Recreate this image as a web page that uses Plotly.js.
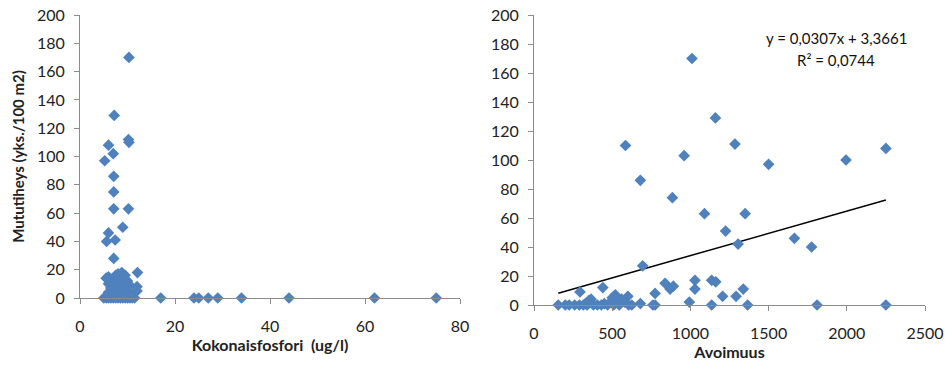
<!DOCTYPE html>
<html>
<head>
<meta charset="utf-8">
<script src="https://cdn.plot.ly/plotly-3.0.1.min.js"></script>
<style>html,body{margin:0;padding:0;background:#fff;}#chart{width:945px;height:365px;}</style>
</head>
<body>
<div id="chart"></div>
<script>
// Left panel: Kokonaisfosfori (ug/l) vs Mututiheys
const fosforiX = [10.3, 7.2, 6.0, 7.0, 5.2, 10.2, 10.3, 7.1, 7.1, 7.1, 10.2, 9.0, 6.0, 5.6, 7.4, 7.1, 12.1,
  17, 24, 25, 27, 29, 34, 44, 62, 75,
  5, 5.5, 6, 6.5, 7, 7.5, 8, 8.5, 9, 9.5, 10, 10.5, 11, 11.5,
  5.5, 6, 6, 6.5, 7, 7, 7.5, 8, 8, 8.5, 8.5, 9, 9, 9.5, 10, 10, 10.5, 11, 12, 12, 6, 9, 7.5, 8.8];
const fosforiY = [170, 129, 108, 102, 97, 112, 110, 86, 75, 63, 63, 50, 46, 40, 41, 28, 18,
  0, 0, 0, 0, 0, 0, 0, 0, 0,
  0, 0, 0, 0, 0, 0, 0, 0, 0, 0, 0, 0, 0, 0,
  14, 10, 4, 7, 12, 3, 16, 8, 17, 5, 14, 11, 2, 16, 6, 12, 9, 3, 8, 5, 15, 7, 10, 18];

// Right panel: Avoimuus vs Mututiheys
const avoimuusX = [1010, 1160, 585, 1285, 960, 1500, 1995, 2250, 680, 885, 1090, 1350, 1225, 1305, 1665, 1775, 695,
  294, 440, 365, 520, 600, 680, 774, 774, 838, 870, 891, 993, 1029, 1029, 1136, 1136, 1162, 1206, 1292, 1338, 1366, 1810, 2250,
  155, 200, 225, 260, 290, 315, 340, 360, 380, 405, 430, 450, 470, 490, 510, 530, 545, 560, 580, 605, 625, 500, 350, 330, 760];
const avoimuusY = [170, 129, 110, 111, 103, 97, 100, 108, 86, 74, 63, 63, 51, 42, 46, 40, 27,
  9, 12, 4, 7, 6, 1, 8, 0, 15, 11, 13, 2, 17, 11, 0, 17, 16, 6, 6, 11, 0, 0, 0,
  0, 0, 0, 0, 0, 0, 0, 2, 0, 0, 0, 1, 0, 2, 0, 3, 0, 4, 2, 0, 0, 5, 3, 1, 0];

// Linear trend shown in the chart
const trendSlope = 0.0307;
const trendIntercept = 3.3661;
const trendEquation = "y = 0,0307x + 3,3661";
const trendR2 = "R² = 0,0744";

const xMin = Math.min(...avoimuusX), xMax = Math.max(...avoimuusX);
const trendX = [xMin, xMax];
const trendY = trendX.map(x => trendSlope * x + trendIntercept);

const blue = '#4F81BD';
const font = 'Lato, "Open Sans", sans-serif';
const marker = {symbol: 'diamond', size: 9, color: blue, line: {width: 0}};

const axisCommon = {
  showgrid: false, zeroline: false, showline: true, linecolor: '#8c8c8c', linewidth: 1,
  ticks: 'outside', ticklen: 5, tickcolor: '#8c8c8c', tickfont: {family: font, size: 16, color: '#222'},
  fixedrange: true
};
const titleFont = {family: font, size: 16, color: '#222'};

const data = [
  {x: fosforiX, y: fosforiY, xaxis: 'x', yaxis: 'y', type: 'scatter', mode: 'markers', marker: marker, cliponaxis: false},
  {x: trendX, y: trendY, xaxis: 'x2', yaxis: 'y2', type: 'scatter', mode: 'lines', line: {color: '#000', width: 1.5}},
  {x: avoimuusX, y: avoimuusY, xaxis: 'x2', yaxis: 'y2', type: 'scatter', mode: 'markers', marker: marker, cliponaxis: false}
];

const layout = {
  width: 945, height: 365,
  margin: {l: 0, r: 0, t: 0, b: 0},
  paper_bgcolor: '#fff', plot_bgcolor: '#fff',
  showlegend: false,
  xaxis: Object.assign({}, axisCommon, {domain: [80/945, 460/945], range: [0, 80], dtick: 20, anchor: 'y',
    ticklabelstandoff: 9,
    title: {text: '<b>Kokonaisfosfori  (ug/l)</b>', font: titleFont, standoff: 3}}),
  yaxis: Object.assign({}, axisCommon, {domain: [(365-298)/365, (365-15)/365], range: [0, 200], dtick: 20, anchor: 'x',
    ticklabelstandoff: 6,
    title: {text: '<b>Mututiheys (yks./100 m2)</b>', font: {family: font, size: 15, color: '#222'}, standoff: 8}}),
  xaxis2: Object.assign({}, axisCommon, {domain: [534/945, 925/945], range: [0, 2500], dtick: 500, anchor: 'y2',
    ticklabelstandoff: 9,
    title: {text: '<b>Avoimuus</b>', font: titleFont, standoff: 1}}),
  yaxis2: Object.assign({}, axisCommon, {domain: [(365-305)/365, (365-15)/365], range: [0, 200], dtick: 20, anchor: 'x2',
    ticklabelstandoff: 6}),
  annotations: [
    {text: trendEquation, xref: 'paper', yref: 'paper', x: 836/945, y: (365-38)/365, xanchor: 'center', yanchor: 'middle',
     showarrow: false, font: {family: font, size: 15, color: '#111'}},
    {text: trendR2, xref: 'paper', yref: 'paper', x: 836/945, y: (365-60)/365, xanchor: 'center', yanchor: 'middle',
     showarrow: false, font: {family: font, size: 15, color: '#111'}}
  ]
};

Plotly.newPlot('chart', data, layout, {displayModeBar: false, staticPlot: true});
</script>
</body>
</html>
